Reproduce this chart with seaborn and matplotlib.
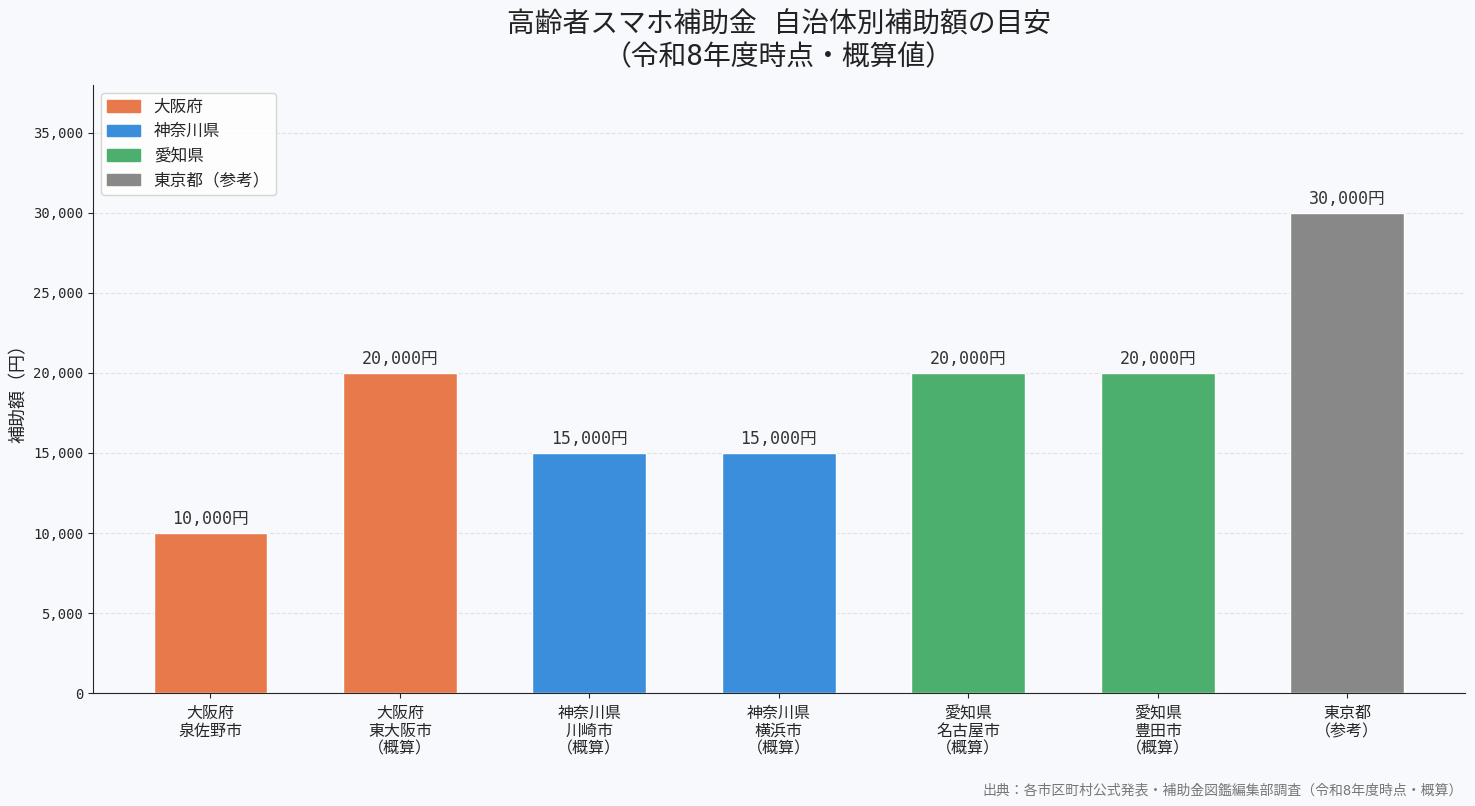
import pandas as pd
import matplotlib.pyplot as plt
import seaborn as sns
from matplotlib.patches import Patch

# data
labels = ["大阪府\n泉佐野市", "大阪府\n東大阪市\n（概算）", "神奈川県\n川崎市\n（概算）",
          "神奈川県\n横浜市\n（概算）", "愛知県\n名古屋市\n（概算）", "愛知県\n豊田市\n（概算）",
          "東京都\n（参考）"]
prefs = ["大阪府", "大阪府", "神奈川県", "神奈川県", "愛知県", "愛知県", "東京都（参考）"]
amounts = [10000, 20000, 15000, 15000, 20000, 20000, 30000]
pref_colors = {"大阪府": "#E8794A", "神奈川県": "#3B8EDB", "愛知県": "#4CAF6E", "東京都（参考）": "#888888"}

df = pd.DataFrame({"label": labels, "pref": prefs, "amount": amounts})

sns.set_style("ticks")
plt.rcParams['font.family'] = ['DejaVu Sans Mono', 'Noto Sans CJK JP']
bg = "#F8F9FC"

fig, ax = plt.subplots(figsize=(14.75, 8.06), dpi=100)
fig.patch.set_facecolor(bg)
ax.set_facecolor(bg)

sns.barplot(data=df, x="label", y="amount", hue="pref", palette=pref_colors,
            width=0.6, dodge=False, legend=False, saturation=1, ax=ax)

for i, v in enumerate(amounts):
    ax.text(i, v + 300, f"{v:,}円", ha="center", va="bottom", fontsize=12, color="#333333")

ax.set_ylim(0, 38000)
ax.set_xlim(-0.62, 6.62)
ax.set_yticks(range(0, 35001, 5000))
ax.yaxis.set_major_formatter(plt.FuncFormatter(lambda v, p: f"{int(v):,}"))
ax.grid(axis="y", linestyle="--", color="#dddddd", alpha=0.8)
ax.set_axisbelow(True)
sns.despine(ax=ax)

ax.set_xlabel("")
ax.set_ylabel("補助額（円）", fontsize=13)
ax.tick_params(axis="x", labelsize=11.5, pad=6)
ax.tick_params(axis="y", labelsize=10)

handles = [Patch(color=c, label=k) for k, c in pref_colors.items()]
ax.legend(handles=handles, loc="upper left", frameon=True,
          prop={'family': ['Noto Sans CJK JP', 'DejaVu Sans'], 'size': 12},
          labelspacing=0.45, borderpad=0.35)

ax.set_title("高齢者スマホ補助金 自治体別補助額の目安\n（令和8年度時点・概算値）",
             fontsize=20, color="#222222", pad=14)

fig.text(0.992, 0.01, "出典：各市区町村公式発表・補助金図鑑編集部調査（令和8年度時点・概算）",
         ha="right", va="bottom", fontsize=10, color="#777777")

fig.subplots_adjust(left=0.063, right=0.993, top=0.895, bottom=0.14)
plt.savefig("out.png", facecolor=bg)
